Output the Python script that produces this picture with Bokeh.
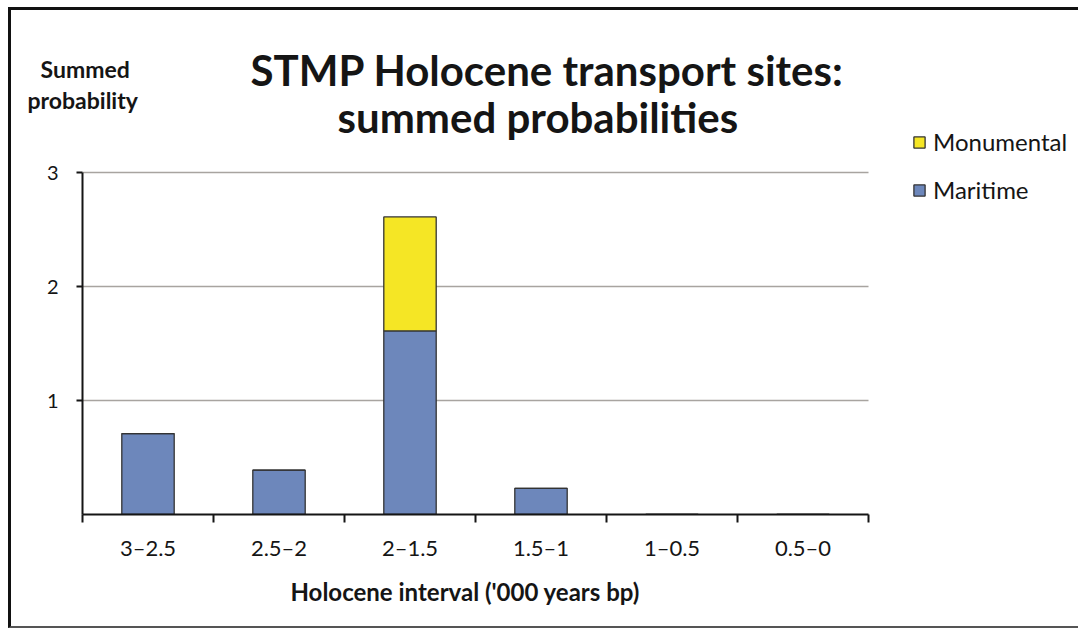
from bokeh.plotting import figure
from bokeh.models import (Range1d, FixedTicker, ColumnDataSource, Legend, LegendItem, Title)
from bokeh.embed import file_html
from bokeh.resources import INLINE

categories = ["3–2.5", "2.5–2", "2–1.5", "1.5–1", "1–0.5", "0.5–0"]
maritime = [0.71, 0.39, 1.61, 0.23, 0.0, 0.0]
monumental = [0.0, 0.0, 1.0, 0.0, 0.0, 0.0]
series = ["Maritime", "Monumental"]
colors = ["#6d87bb", "#f5e625"]
y_ticks = [1, 2, 3]
title_lines = ["STMP Holocene transport sites:", "summed probabilities"]
ylabel_lines = ["Summed", "probability"]
xlabel = "Holocene interval ('000 years bp)"

FONT = "Lato"
INK = "#151515"

# plotting area: the axes cover 786 x 342 px; the frame is extended to the right
# and upwards so that the legend (drawn inside the frame) is not clipped
AX_W, AX_H = 786, 342
FR_W, FR_H = 993, 389
n = len(categories)
y_top = max(y_ticks)
x_end = n * FR_W / AX_W
y_end = y_top * FR_H / AX_H

x = [i + 0.5 for i in range(n)]
src = ColumnDataSource(dict(x=x, Maritime=maritime, Monumental=monumental))
grid_src = ColumnDataSource(dict(x0=[0] * len(y_ticks), x1=[n] * len(y_ticks), y=y_ticks))

p = figure(width=1070, height=621, output_backend="svg", toolbar_location=None,
           x_range=Range1d(0, x_end), y_range=Range1d(0, y_end),
           min_border_left=71, min_border_right=6, min_border_top=115, min_border_bottom=117)
p.styles = {"border-top": "3px solid #111", "border-left": "3px solid #111",
            "border-bottom": "2px solid #555", "box-sizing": "border-box",
            "margin-left": "8px", "margin-top": "7px"}
p.outline_line_color = None
p.title.visible = False
p.grid.visible = False

p.segment(x0="x0", x1="x1", y0="y", y1="y", source=grid_src,
          line_color="#a8a4a0", line_width=1.3, level="underlay")

rs = p.vbar_stack(series, x="x", width=0.4, source=src, fill_color=colors,
                  line_color="#333333", line_width=1.3)

p.yaxis.ticker = FixedTicker(ticks=y_ticks)
p.yaxis.bounds = (0, y_top)
p.yaxis.axis_line_color = INK
p.yaxis.axis_line_width = 2
p.yaxis.major_tick_line_color = INK
p.yaxis.major_tick_line_width = 2
p.yaxis.major_tick_in = 0
p.yaxis.major_tick_out = 6
p.yaxis.minor_tick_line_color = None
p.yaxis.major_label_text_font = FONT
p.yaxis.major_label_text_font_size = "20px"
p.yaxis.major_label_text_color = INK
p.yaxis.major_label_standoff = 18

p.xaxis.ticker = FixedTicker(ticks=x, minor_ticks=list(range(n + 1)))
p.xaxis.bounds = (0, n)
p.xaxis.major_label_overrides = {xi: c for xi, c in zip(x, categories)}
p.xaxis.axis_line_color = INK
p.xaxis.axis_line_width = 2
p.xaxis.major_tick_line_color = None
p.xaxis.minor_tick_line_color = INK
p.xaxis.minor_tick_line_width = 2
p.xaxis.minor_tick_in = 0
p.xaxis.minor_tick_out = 8
p.xaxis.major_label_text_font = FONT
p.xaxis.major_label_text_font_size = "22px"
p.xaxis.major_label_text_color = INK
p.xaxis.major_label_standoff = 11

# x-axis caption as a title row below the axis (placed left of the frame centre)
p.add_layout(Title(text=xlabel, align="left", vertical_align="top", offset=208, standoff=26,
                   text_font=FONT, text_font_style="bold", text_font_size="24px",
                   text_color=INK), "below")

# title rows, listed bottom-most first (the above panel stacks them in reverse)
rows = [
    (ylabel_lines[1], "23px", -55, -80),
    (ylabel_lines[0], "23px", -42, -142),
    (title_lines[1], "42px", 255, -68),
    (title_lines[0], "42px", 168, -162),
]
for txt, size, off, so in rows:
    p.add_layout(Title(text=txt, align="left", vertical_align="top", offset=off, standoff=so,
                       text_font=FONT, text_font_style="bold", text_font_size=size,
                       text_color=INK), "above")

legend = Legend(items=[LegendItem(label="Monumental", renderers=[rs[1]]),
                       LegendItem(label="Maritime", renderers=[rs[0]])],
                location=(830, 310), orientation="vertical",
                background_fill_alpha=0, border_line_color=None,
                label_text_font=FONT, label_text_font_size="24px", label_text_color=INK,
                glyph_width=14, glyph_height=14, spacing=19, padding=0, margin=0,
                label_standoff=7)
p.add_layout(legend)

open("out.html", "w").write(file_html(p, INLINE))
